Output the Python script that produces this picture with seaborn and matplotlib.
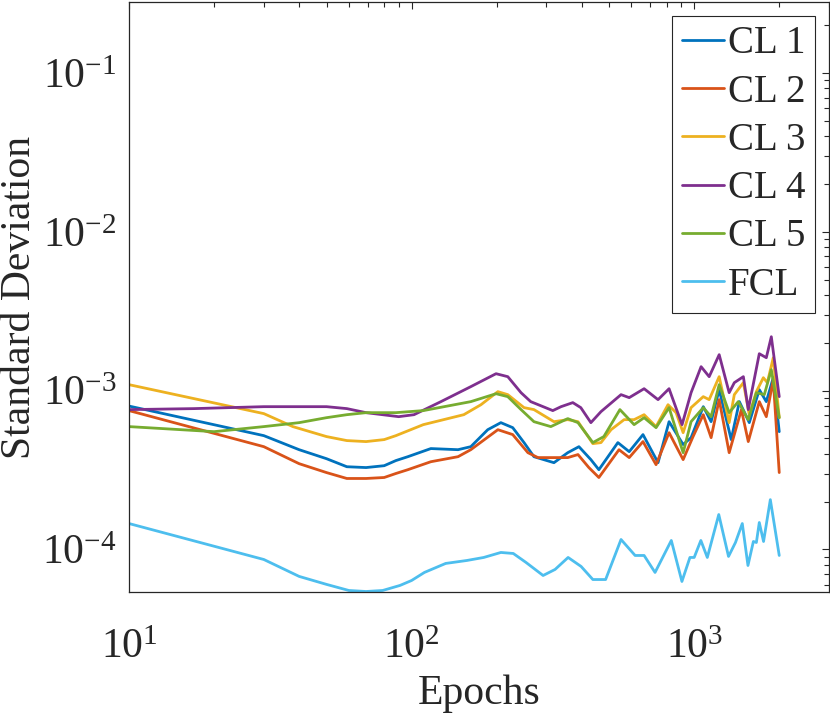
import pandas as pd
import matplotlib
matplotlib.use('Agg')
import matplotlib.pyplot as plt
import seaborn as sns
from matplotlib.ticker import NullFormatter

# Values (epochs, std deviation)
cl1_epochs = [10, 30, 40, 50, 59, 69, 80, 88, 97, 117, 146, 162, 186, 207, 228, 250, 271,
              319, 357, 391, 431, 460, 537, 589, 659, 745, 815, 914, 975, 1077, 1148, 1226,
              1352, 1445, 1567, 1700, 1800, 1905, 2000]
cl1_std = [0.80e-3, 0.521e-3, 0.425e-3, 0.373e-3, 0.332e-3, 0.328e-3, 0.337e-3, 0.363e-3,
           0.384e-3, 0.432e-3, 0.425e-3, 0.444e-3, 0.568e-3, 0.629e-3, 0.585e-3, 0.471e-3,
           0.384e-3, 0.352e-3, 0.407e-3, 0.444e-3, 0.368e-3, 0.318e-3, 0.471e-3, 0.413e-3,
           0.529e-3, 0.352e-3, 0.638e-3, 0.458e-3, 0.506e-3, 0.793e-3, 0.638e-3, 1.015e-3,
           0.492e-3, 0.853e-3, 0.629e-3, 1.015e-3, 0.853e-3, 1.207e-3, 0.552e-3]

cl2_epochs = [10, 30, 40, 50, 59, 69, 80, 88, 97, 117, 146, 162, 202, 228, 258, 280, 319,
              357, 388, 424, 460, 542, 589, 659, 733, 815, 914, 991, 1077, 1148, 1226, 1330,
              1469, 1554, 1700, 1800, 1905, 2000]
cl2_std = [0.749e-3, 0.444e-3, 0.347e-3, 0.305e-3, 0.280e-3, 0.280e-3, 0.284e-3, 0.301e-3,
           0.318e-3, 0.357e-3, 0.384e-3, 0.425e-3, 0.568e-3, 0.529e-3, 0.407e-3, 0.379e-3,
           0.379e-3, 0.379e-3, 0.396e-3, 0.328e-3, 0.284e-3, 0.425e-3, 0.379e-3, 0.478e-3,
           0.342e-3, 0.544e-3, 0.368e-3, 0.514e-3, 0.706e-3, 0.506e-3, 0.878e-3, 0.407e-3,
           0.760e-3, 0.478e-3, 0.853e-3, 0.686e-3, 1.173e-3, 0.305e-3]

cl3_epochs = [10, 30, 38, 50, 59, 69, 80, 88, 110, 153, 176, 202, 219, 250, 271, 319, 357,
              388, 438, 468, 508, 565, 613, 665, 733, 808, 863, 914, 975, 1077, 1130, 1226,
              1330, 1387, 1493, 1567, 1660, 1757, 1815, 1905, 2000]
cl3_std = [1.091e-3, 0.717e-3, 0.594e-3, 0.514e-3, 0.485e-3, 0.478e-3, 0.492e-3, 0.521e-3,
           0.611e-3, 0.706e-3, 0.816e-3, 0.986e-3, 0.944e-3, 0.782e-3, 0.760e-3, 0.638e-3,
           0.657e-3, 0.638e-3, 0.464e-3, 0.471e-3, 0.568e-3, 0.657e-3, 0.657e-3, 0.706e-3,
           0.594e-3, 0.816e-3, 0.727e-3, 0.544e-3, 0.782e-3, 0.917e-3, 0.878e-3, 1.225e-3,
           0.629e-3, 0.944e-3, 1.123e-3, 0.706e-3, 0.986e-3, 1.207e-3, 1.123e-3, 1.613e-3,
           0.676e-3]

cl4_epochs = [10, 17, 30, 41, 50, 59, 69, 90, 102, 127, 162, 199, 219, 244, 264, 316, 338,
              372, 397, 431, 468, 551, 589, 665, 745, 815, 906, 975, 1058, 1130, 1226, 1330,
              1387, 1493, 1554, 1700, 1800, 1875, 2000]
cl4_std = [0.760e-3, 0.771e-3, 0.793e-3, 0.793e-3, 0.793e-3, 0.771e-3, 0.727e-3, 0.686e-3,
           0.706e-3, 0.853e-3, 1.060e-3, 1.279e-3, 1.225e-3, 0.971e-3, 0.853e-3, 0.749e-3,
           0.793e-3, 0.841e-3, 0.782e-3, 0.629e-3, 0.738e-3, 0.944e-3, 0.904e-3, 1.029e-3,
           0.878e-3, 1.029e-3, 0.611e-3, 0.971e-3, 1.416e-3, 1.225e-3, 1.685e-3, 0.971e-3,
           1.123e-3, 1.225e-3, 0.760e-3, 1.709e-3, 1.613e-3, 2.186e-3, 0.917e-3]

cl5_epochs = [10, 20, 30, 40, 50, 59, 69, 88, 110, 162, 199, 219, 244, 271, 311, 357, 388,
              438, 479, 546, 613, 665, 733, 815, 914, 975, 1077, 1148, 1226, 1330, 1432,
              1554, 1660, 1771, 1875, 2000]
cl5_std = [0.594e-3, 0.552e-3, 0.594e-3, 0.629e-3, 0.676e-3, 0.706e-3, 0.727e-3, 0.727e-3,
           0.749e-3, 0.853e-3, 0.957e-3, 0.917e-3, 0.760e-3, 0.638e-3, 0.594e-3, 0.667e-3,
           0.629e-3, 0.471e-3, 0.514e-3, 0.760e-3, 0.611e-3, 0.676e-3, 0.585e-3, 0.782e-3,
           0.407e-3, 0.638e-3, 0.782e-3, 0.686e-3, 1.091e-3, 0.727e-3, 0.853e-3, 0.657e-3,
           0.971e-3, 0.944e-3, 1.356e-3, 0.676e-3]

fcl_epochs = [10, 30, 40, 50, 60, 69, 79, 91, 100, 111, 132, 157, 180, 207, 229, 254, 292,
              322, 358, 398, 438, 486, 551, 618, 665, 727, 830, 905, 966, 1000, 1056, 1113,
              1222, 1323, 1400, 1480, 1550, 1620, 1660, 1700, 1760, 1860, 2000]
fcl_std = [1.457e-4, 8.65e-5, 6.77e-5, 6.03e-5, 5.52e-5, 5.44e-5, 5.52e-5, 5.94e-5, 6.38e-5,
           7.17e-5, 8.17e-5, 8.53e-5, 8.91e-5, 9.58e-5, 9.44e-5, 8.29e-5, 6.86e-5, 7.49e-5,
           8.91e-5, 7.82e-5, 6.47e-5, 6.47e-5, 1.156e-4, 9.17e-5, 9.17e-5, 7.17e-5, 1.140e-4,
           6.29e-5, 8.91e-5, 8.91e-5, 1.140e-4, 8.91e-5, 1.66e-4, 9.04e-5, 1.107e-4, 1.457e-4,
           7.93e-5, 1.123e-4, 1.107e-4, 1.479e-4, 1.123e-4, 2.06e-4, 9.17e-5]

labels = ['CL 1', 'CL 2', 'CL 3', 'CL 4', 'CL 5', 'FCL']
colors = ['#0072BD', '#D95319', '#EDB120', '#7E2F8E', '#77AC30', '#4DBEEE']
series = [(cl1_epochs, cl1_std), (cl2_epochs, cl2_std), (cl3_epochs, cl3_std),
          (cl4_epochs, cl4_std), (cl5_epochs, cl5_std), (fcl_epochs, fcl_std)]

sns.set_style('white')
plt.rcParams['font.family'] = ['Liberation Serif', 'DejaVu Serif']
plt.rcParams['mathtext.fontset'] = 'custom'
plt.rcParams['mathtext.rm'] = 'Liberation Serif'
plt.rcParams['axes.unicode_minus'] = False

fig = plt.figure(figsize=(8.3, 7.17), dpi=100)
ax = fig.add_axes([129 / 830, 125 / 717, 700 / 830, 590 / 717])

for (ep, sd), lab, col in zip(series, labels, colors):
    df = pd.DataFrame({'Epochs': ep, 'Std': sd})
    sns.lineplot(data=df, x='Epochs', y='Std', color=col, label=lab,
                 linewidth=2, estimator=None, ax=ax)

ax.set_xscale('log')
ax.set_yscale('log')
ax.set_xlim(10, 3000)
ax.set_ylim(5.4e-5, 0.28)
ax.xaxis.set_minor_formatter(NullFormatter())
ax.yaxis.set_minor_formatter(NullFormatter())

ax.set_xlabel('Epochs', fontsize=30, color='#262626', labelpad=6)
ax.set_ylabel('Standard Deviation', fontsize=30, color='#262626', labelpad=2)
ax.tick_params(which='both', direction='in', top=True, right=True, colors='#262626',
               labelsize=30, width=0.8)
ax.tick_params(which='major', length=5)
ax.tick_params(which='minor', length=3.4)
ax.tick_params(axis='x', which='major', pad=26)
ax.tick_params(axis='y', which='major', pad=9)
for s in ax.spines.values():
    s.set_color('#262626')
    s.set_linewidth(0.9)

leg = ax.legend(loc='upper right', fontsize=28, frameon=True, fancybox=False,
                framealpha=1, edgecolor='#262626', handlelength=1.1,
                handletextpad=0.1, labelspacing=0.29, borderpad=0.25,
                borderaxespad=0.35)
leg.get_frame().set_linewidth(0.8)

fig.savefig('out.png', dpi=100)
